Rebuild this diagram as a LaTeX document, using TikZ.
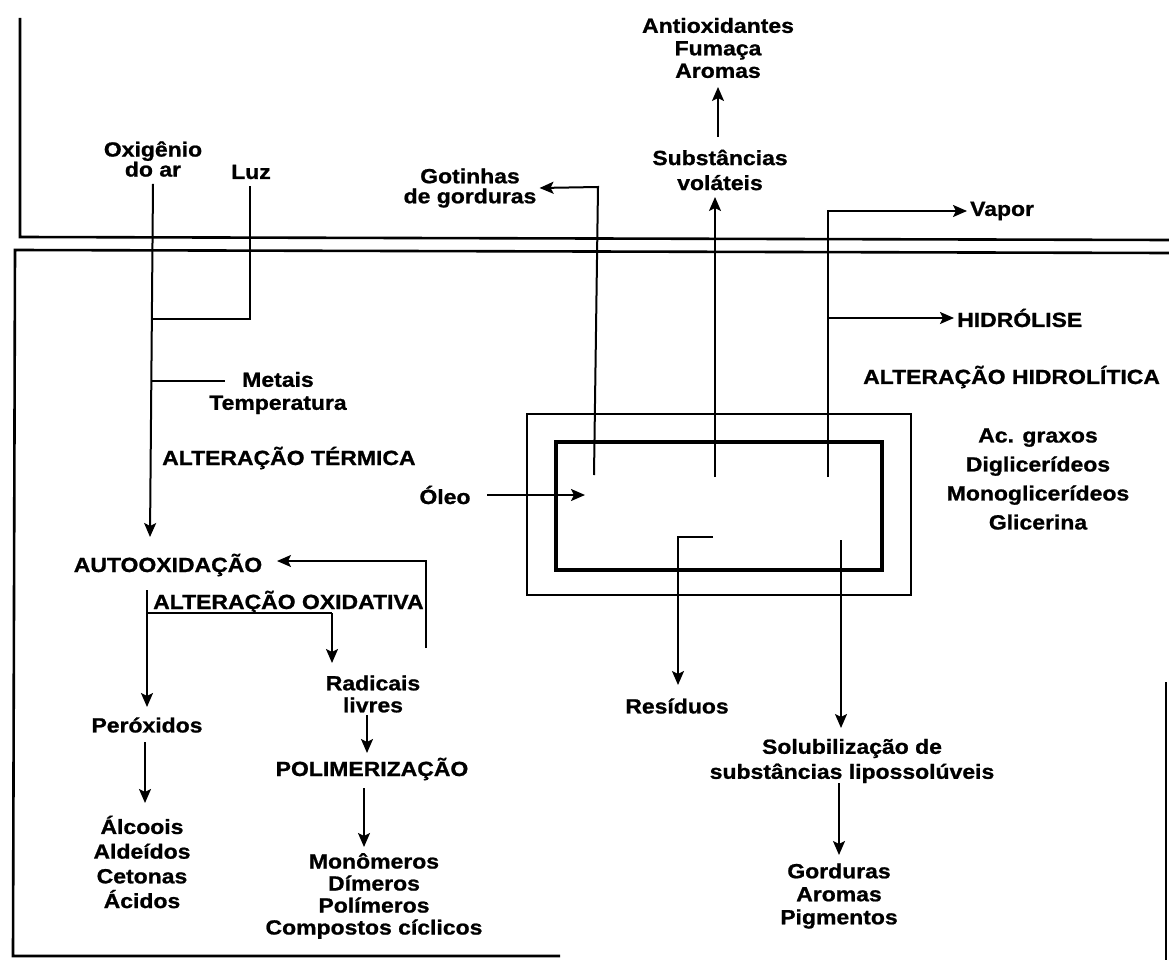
\documentclass[tikz,border=0pt]{standalone}
\usepackage{fontspec}
\setmainfont{Liberation Sans}[FakeStretch=1.12, BoldFeatures={FakeBold=1}]
\usetikzlibrary{arrows.meta}
\begin{document}
\begin{tikzpicture}[x=1pt,y=-1pt,
  lbl/.style={font=\bfseries\fontsize{20.5}{23}\selectfont, align=center, inner sep=3pt},
  frame/.style={line width=2.6pt},
  ln/.style={line width=2pt},
  arr/.style={line width=2pt,-{Stealth[length=14pt,width=12pt,inset=3pt]}},
  box/.style={line width=2pt},
  thickbox/.style={line width=4pt}]
\useasboundingbox (0,0) rectangle (1169,960);
% frame
\draw[frame] (20,18) -- (20,237) -- (1169,240);
\draw[frame] (1169,253) -- (15,250) -- (13,956) -- (560,956);
\draw[line width=1.2pt] (1166,682) -- (1166,960);
% central boxes
\draw[box] (527,414) rectangle (911,595);
\draw[thickbox] (556,442) rectangle (882,570);
% labels
\node[lbl, font=\bfseries\fontsize{20.5}{20}\selectfont] (ox) at (153,159) {Oxigênio\\do ar};
\node[lbl] (luz) at (251,172) {Luz};
\node[lbl] (metais) at (278,393) {Metais\\Temperatura};
\node[lbl, anchor=west] (termica) at (159,458) {ALTERAÇÃO TÉRMICA};
\node[lbl] (auto) at (168,565) {AUTOOXIDAÇÃO};
\node[lbl, anchor=west] (oxid) at (150,602) {ALTERAÇÃO OXIDATIVA};
\node[lbl] (perox) at (147,725) {Peróxidos};
\node[lbl, font=\bfseries\fontsize{20.5}{24.7}\selectfont] (alc) at (142,862) {Álcoois\\Aldeídos\\Cetonas\\Ácidos};
\node[lbl, font=\bfseries\fontsize{20.5}{22}\selectfont] (rad) at (373,694) {Radicais\\livres};
\node[lbl] (poli) at (372,769) {POLIMERIZAÇÃO};
\node[lbl, font=\bfseries\fontsize{20.5}{22}\selectfont] (mono) at (374,896) {Monômeros\\Dímeros\\Polímeros\\Compostos cíclicos};
\node[lbl] (oleo) at (445,495) {Óleo};
\node[lbl, font=\bfseries\fontsize{20.5}{20}\selectfont] (gotas) at (470,188) {Gotinhas\\de gorduras};
\node[lbl, font=\bfseries\fontsize{20.5}{25}\selectfont] (subst) at (720,170) {Substâncias\\voláteis};
\node[lbl, font=\bfseries\fontsize{20.5}{22.5}\selectfont] (anti) at (718,48) {Antioxidantes\\Fumaça\\Aromas};
\node[lbl, anchor=west] (vapor) at (967,211) {Vapor};
\node[lbl, anchor=west] (hidro) at (954,318) {HIDRÓLISE};
\node[lbl, anchor=west] (althid) at (860,377) {ALTERAÇÃO HIDROLÍTICA};
\node[lbl, font=\bfseries\fontsize{20.5}{29}\selectfont] (acg) at (1038,479) {Ac. graxos\\Diglicerídeos\\Monoglicerídeos\\Glicerina};
\node[lbl] (resid) at (677,706) {Resíduos};
\node[lbl, font=\bfseries\fontsize{20.5}{25}\selectfont] (solub) at (852,761) {Solubilização de\\substâncias lipossolúveis};
\node[lbl, font=\bfseries\fontsize{20.5}{23}\selectfont] (gord) at (839,896) {Gorduras\\Aromas\\Pigmentos};
% coordinates
\coordinate (oxend) at (150,537);
\coordinate (luzj) at (250,319);
\coordinate (oxj1) at (151,319);
\coordinate (oxj2) at (151,381);
\coordinate (mt) at (225,381);
\coordinate (gv1) at (594,475);
\coordinate (gv2) at (598,187);
\coordinate (sv1) at (715,477);
\coordinate (sv2) at (715,197);
\coordinate (av1) at (718,137);
\coordinate (av2) at (718,87);
\coordinate (vv1) at (828,477);
\coordinate (vv2) at (828,211);
\coordinate (hv) at (828,318);
\coordinate (oa) at (585,495);
\coordinate (ol) at (487,495);
\coordinate (rs1) at (713,537);
\coordinate (rs2) at (678,537);
\coordinate (rs3) at (678,685);
\coordinate (sl1) at (841,540);
\coordinate (sl2) at (841,728);
\coordinate (gl1) at (839,783);
\coordinate (gl2) at (839,855);
\coordinate (ob1) at (147,590);
\coordinate (ob2) at (147,613);
\coordinate (ob3) at (332,613);
\coordinate (ob4) at (332,663);
\coordinate (pe1) at (145,742);
\coordinate (pe2) at (145,803);
\coordinate (ra1) at (367,715);
\coordinate (ra2) at (367,753);
\coordinate (po1) at (364,788);
\coordinate (po2) at (364,847);
\coordinate (rt1) at (426,648);
\coordinate (rt2) at (426,561);
\coordinate (rt3) at (277,561);
% connectors
\draw[arr] (ox.south) ++(0,4) coordinate (oxs) -- (oxend);
\draw[ln] (luz.south) ++(-1,4) -- (luzj) -- (oxj1);
\draw[ln] (oxj2) -- (mt);
\draw[arr] (gv1) -- (gv2) -- (gotas.east);
\draw[arr] (sv1) -- (sv2);
\draw[arr] (av1) -- (av2);
\draw[arr] (vv1) -- (vv2) -- (vapor.west);
\draw[arr] (hv) -- (hidro.west);
\draw[arr] (ol) -- (oa);
\draw[arr] (rs1) -- (rs2) -- (rs3);
\draw[arr] (sl1) -- (sl2);
\draw[arr] (gl1) -- (gl2);
\draw[ln] (ob1) -- (ob2) -- (ob3);
\draw[arr] (ob2) -- (147,707);
\draw[arr] (ob3) -- (ob4);
\draw[arr] (pe1) -- (pe2);
\draw[arr] (ra1) -- (ra2);
\draw[arr] (po1) -- (po2);
\draw[arr] (rt1) -- (rt2) -- (rt3);
\end{tikzpicture}
\end{document}
